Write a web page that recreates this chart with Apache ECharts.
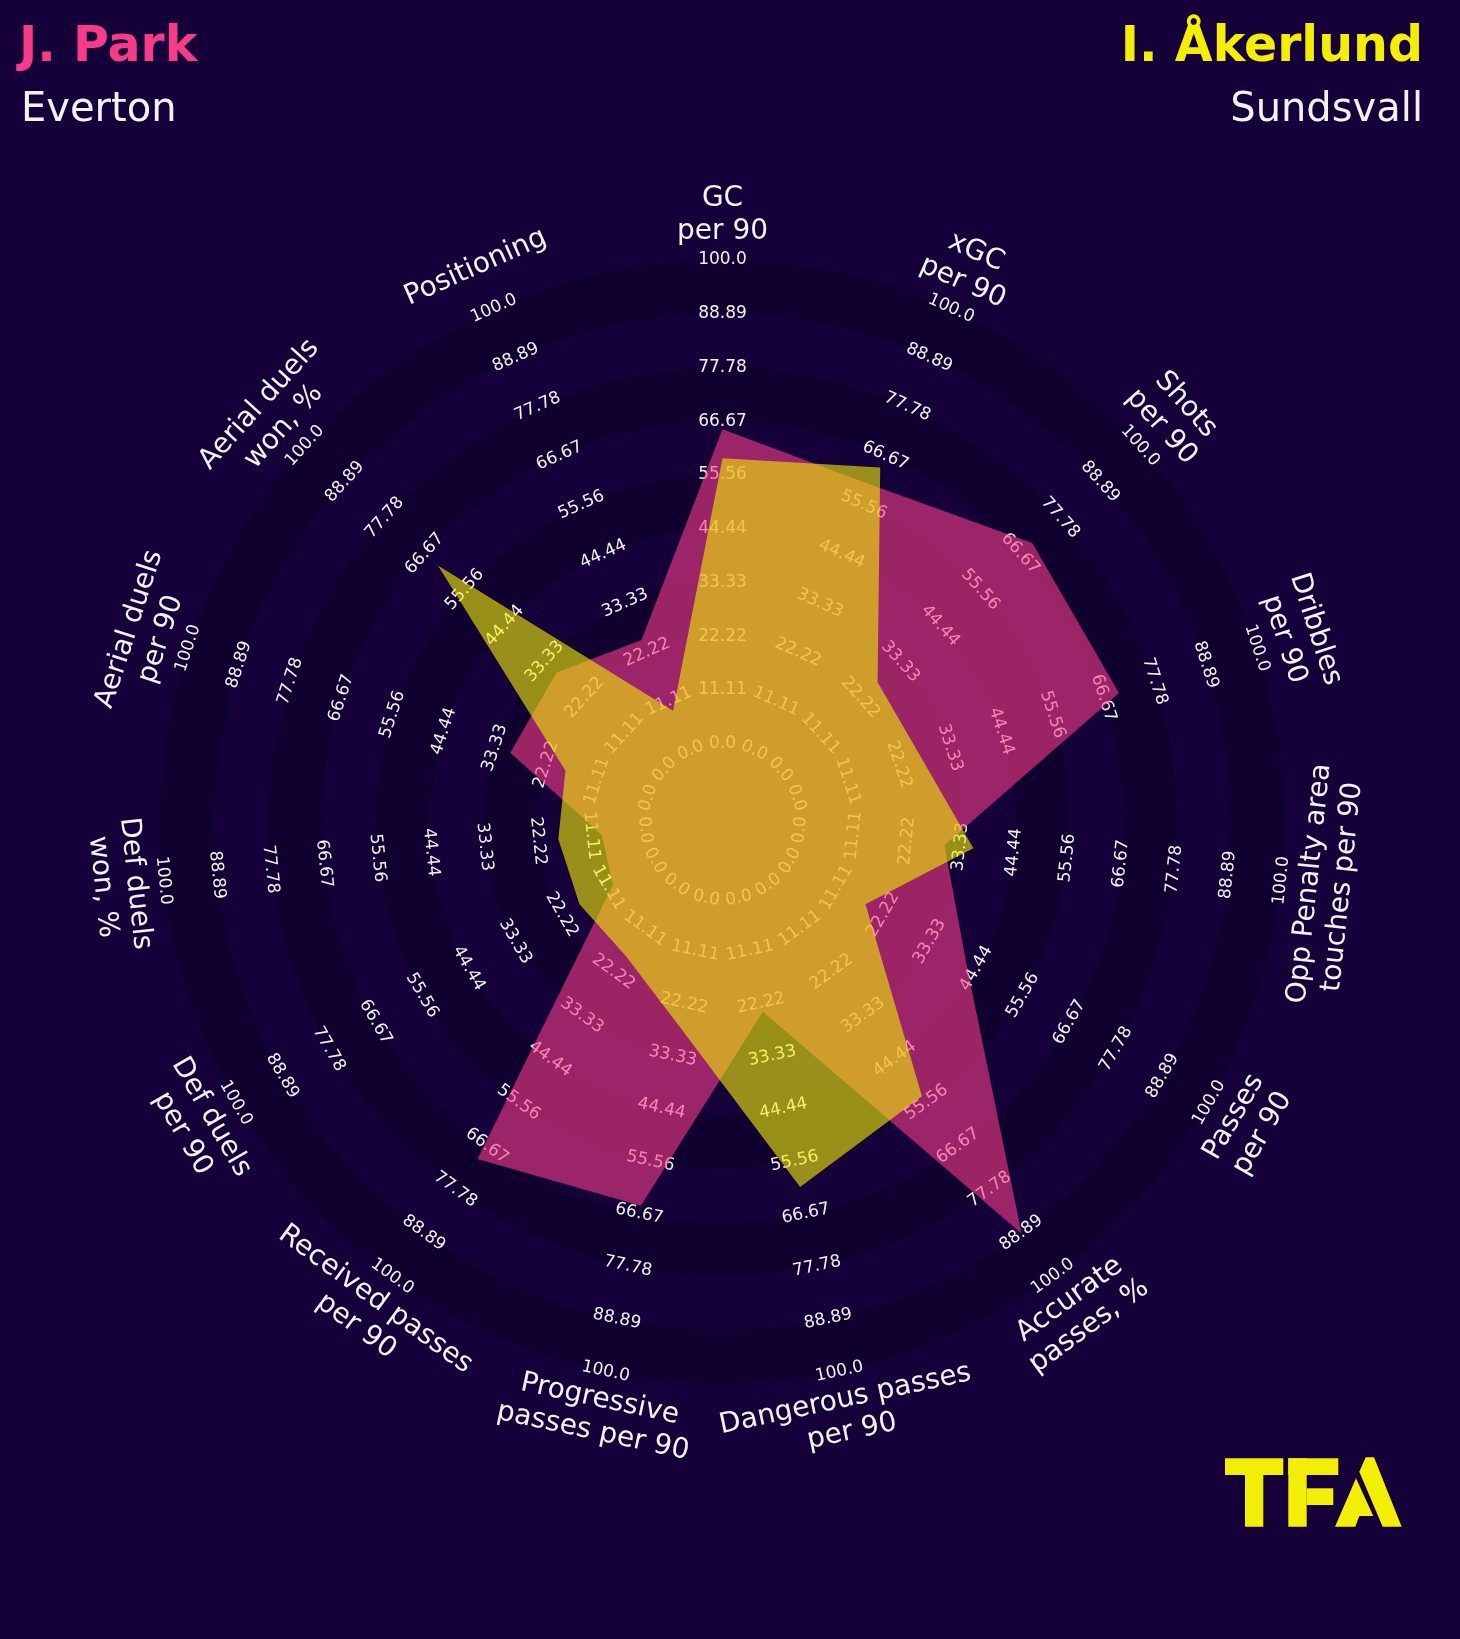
<!DOCTYPE html>
<html>
<head>
<meta charset="utf-8">
<title>J. Park vs I. Åkerlund</title>
<script src="https://cdn.jsdelivr.net/npm/echarts@6/dist/echarts.min.js"></script>
<style>
  html, body { margin: 0; padding: 0; background: #15003a; }
  #chart { width: 1460px; height: 1639px; }
</style>
</head>
<body>
<div id="chart"></div>
<script>
// radar params, clockwise from the top
const params = [
  'GC\nper 90',
  'xGC\nper 90',
  'Shots\nper 90',
  'Dribbles\nper 90',
  'Opp Penalty area\ntouches per 90',
  'Passes\nper 90',
  'Accurate\npasses, %',
  'Dangerous passes\nper 90',
  'Progressive\npasses per 90',
  'Received passes\nper 90',
  'Def duels\nper 90',
  'Def duels\nwon, %',
  'Aerial duels\nper 90',
  'Aerial duels\nwon, %',
  'Positioning'
]
const parkValues = [65, 60, 70, 70, 30, 42, 89, 24, 65, 70, 10, 9, 30, 30, 25]
const akerlundValues = [59, 64, 27, 27, 36, 18, 54, 61, 27, 18, 18, 18, 18, 63, 9]
const tickValues = [0, 11.11, 22.22, 33.33, 44.44, 55.56, 66.67, 77.78, 88.89, 100]
const tickLabels = ['0.0', '11.11', '22.22', '33.33', '44.44', '55.56', '66.67', '77.78', '88.89', '100.0']

const BG = '#15003a'
const RING = '#100030'
const PINK = '#f63c87'
const YELLOW = '#f3ee05'
const TEXT = '#f2f2f2'
const FONT = 'DejaVu Sans'

const chart = echarts.init(document.getElementById('chart'))

// text reads along the ring, flipped on the lower half so it stays upright
function labelRotation (x, y, cx, cy) {
  const theta = Math.atan2(cy - y, x - cx)
  return Math.sin(theta) >= 0 ? theta - Math.PI / 2 : theta + Math.PI / 2
}

// dark bands between every other pair of ticks
const ringData = []
for (let k = 0; k + 1 < tickValues.length; k += 2) {
  ringData.push([tickValues[k], 0, tickValues[k + 1]])
}

const tickData = []
params.forEach((p, i) => {
  tickValues.forEach((t, j) => tickData.push([t, i, j]))
})

function polygonSeries (name, values, color, z) {
  return {
    type: 'custom',
    name: name,
    coordinateSystem: 'polar',
    silent: true,
    z: z,
    data: values.map((v, i) => [v, i]),
    renderItem (p, api) {
      if (p.dataIndex !== 0) return null
      const pts = []
      for (let k = 0; k < values.length; k++) {
        pts.push(api.coord([api.value(0, k), api.value(1, k)]))
      }
      return {
        type: 'polygon',
        shape: { points: pts },
        style: { fill: echarts.color.modifyAlpha(color, 0.6) }
      }
    }
  }
}

const option = {
  backgroundColor: BG,
  animation: false,
  polar: {
    center: [722.5, 821.8],
    radius: 562
  },
  angleAxis: {
    type: 'category',
    data: params,
    startAngle: 90,
    clockwise: true,
    boundaryGap: false,
    axisLine: { show: false },
    axisTick: { show: false },
    axisLabel: { show: false },
    splitLine: { show: false }
  },
  radiusAxis: {
    type: 'value',
    min: -16.12,
    max: 100,
    axisLine: { show: false },
    axisTick: { show: false },
    axisLabel: { show: false },
    splitLine: { show: false }
  },
  series: [
    {
      type: 'custom',
      name: 'rings',
      coordinateSystem: 'polar',
      silent: true,
      z: 1,
      data: ringData,
      renderItem (p, api) {
        const cs = p.coordSys
        const a = api.coord([api.value(0), 0])
        const b = api.coord([api.value(2), 0])
        return {
          type: 'sector',
          shape: {
            cx: cs.cx,
            cy: cs.cy,
            r0: Math.hypot(a[0] - cs.cx, a[1] - cs.cy),
            r: Math.hypot(b[0] - cs.cx, b[1] - cs.cy),
            startAngle: 0,
            endAngle: Math.PI * 2
          },
          style: { fill: RING }
        }
      }
    },
    {
      type: 'custom',
      name: 'ticks',
      coordinateSystem: 'polar',
      silent: true,
      z: 2,
      data: tickData,
      renderItem (p, api) {
        const cs = p.coordSys
        const pt = api.coord([api.value(0), api.value(1)])
        return {
          type: 'text',
          x: pt[0],
          y: pt[1],
          rotation: labelRotation(pt[0], pt[1], cs.cx, cs.cy),
          style: {
            text: tickLabels[api.value(2)],
            fill: TEXT,
            fontSize: 17,
            fontFamily: FONT,
            align: 'center',
            verticalAlign: 'middle'
          }
        }
      }
    },
    {
      type: 'custom',
      name: 'params',
      coordinateSystem: 'polar',
      silent: true,
      z: 2,
      data: params.map((p, i) => [100, i]),
      renderItem (p, api) {
        const cs = p.coordSys
        const pt = api.coord([api.value(0), api.value(1)])
        const dx = pt[0] - cs.cx
        const dy = pt[1] - cs.cy
        const d = Math.hypot(dx, dy)
        const x = cs.cx + dx / d * (d + 45)
        const y = cs.cy + dy / d * (d + 45)
        return {
          type: 'text',
          x: x,
          y: y,
          rotation: labelRotation(x, y, cs.cx, cs.cy),
          style: {
            text: params[api.value(1)],
            fill: TEXT,
            fontSize: 28,
            lineHeight: 33,
            fontFamily: FONT,
            align: 'center',
            verticalAlign: 'middle'
          }
        }
      }
    },
    polygonSeries('J. Park', parkValues, PINK, 3),
    polygonSeries('I. Åkerlund', akerlundValues, YELLOW, 4)
  ],
  graphic: [
    {
      type: 'text', x: 19, y: 48, z: 10,
      style: { text: 'J. Park', fill: PINK, fontSize: 49, fontWeight: 'bold', fontFamily: FONT, align: 'left', verticalAlign: 'middle' }
    },
    {
      type: 'text', x: 21, y: 111, z: 10,
      style: { text: 'Everton', fill: TEXT, fontSize: 40, fontFamily: FONT, align: 'left', verticalAlign: 'middle' }
    },
    {
      type: 'text', x: 1423, y: 48, z: 10,
      style: { text: 'I. Åkerlund', fill: YELLOW, fontSize: 49, fontWeight: 'bold', fontFamily: FONT, align: 'right', verticalAlign: 'middle' }
    },
    {
      type: 'text', x: 1423, y: 111, z: 10,
      style: { text: 'Sundsvall', fill: TEXT, fontSize: 40, fontFamily: FONT, align: 'right', verticalAlign: 'middle' }
    },
    // TFA logo
    {
      type: 'group',
      z: 10,
      children: [
        { type: 'rect', shape: { x: 1225, y: 1458.3, width: 58.3, height: 16.7 }, style: { fill: YELLOW } },
        { type: 'rect', shape: { x: 1245, y: 1475, width: 18.3, height: 51.7 }, style: { fill: YELLOW } },
        { type: 'rect', shape: { x: 1288.3, y: 1458.3, width: 50, height: 16.7 }, style: { fill: YELLOW } },
        { type: 'rect', shape: { x: 1288.3, y: 1458.3, width: 18.4, height: 68.4 }, style: { fill: YELLOW } },
        { type: 'rect', shape: { x: 1306.7, y: 1488.3, width: 26.6, height: 16.7 }, style: { fill: YELLOW } },
        {
          type: 'polygon',
          shape: { points: [[1359.3, 1471.7], [1365.7, 1457.3], [1374, 1457.3], [1401.7, 1526.7], [1382.7, 1526.7]] },
          style: { fill: YELLOW }
        },
        {
          type: 'polygon',
          shape: { points: [[1356, 1478.3], [1373.3, 1516], [1359.3, 1516], [1355.3, 1526.7], [1335, 1526.7]] },
          style: { fill: YELLOW }
        }
      ]
    }
  ]
}

chart.setOption(option)
</script>
</body>
</html>
